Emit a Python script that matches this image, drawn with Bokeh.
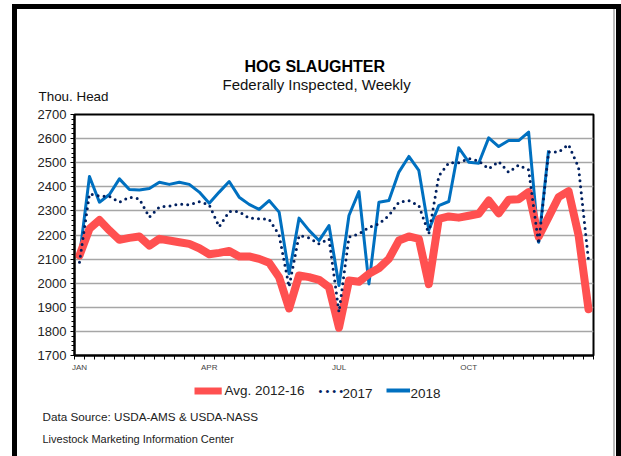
from bokeh.plotting import figure
from bokeh.models import (Range1d, FixedTicker, Title)
from bokeh.embed import file_html
from bokeh.resources import INLINE
import numpy as np

# ---------------- data ----------------
weeks = list(range(1, 53))
avg_2012_16 = [2115, 2226, 2262, 2219, 2180, 2188, 2194, 2156, 2184, 2177,
               2170, 2163, 2145, 2120, 2126, 2134, 2111, 2111, 2101, 2085,
               2025, 1895, 2032, 2025, 2014, 1983, 1815, 2011, 2006, 2039,
               2062, 2101, 2177, 2194, 2184, 1996, 2267, 2277, 2272, 2280,
               2288, 2343, 2290, 2346, 2348, 2378, 2193, 2274, 2357, 2382,
               2200, 1892]
y2017 = [2087, 2371, 2362, 2360, 2336, 2357, 2350, 2274, 2316, 2320,
         2329, 2325, 2338, 2325, 2234, 2297, 2297, 2270, 2267, 2265,
         2200, 1985, 2198, 2188, 2163, 2184, 1880, 2191, 2205, 2232,
         2246, 2281, 2336, 2343, 2322, 2205, 2445, 2500, 2500, 2517,
         2507, 2475, 2505, 2460, 2490, 2470, 2163, 2544, 2544, 2575,
         2481, 2094]
y2018 = [2110, 2443, 2336, 2368, 2433, 2389, 2387, 2393, 2419, 2410,
         2419, 2410, 2378, 2332, 2378, 2422, 2357, 2327, 2306, 2343,
         2295, 2039, 2270, 2219, 2177, 2239, 1990, 2281, 2380, 1997,
         2336, 2343, 2461, 2526, 2468, 2221, 2322, 2339, 2562, 2502,
         2498, 2603, 2567, 2592, 2592, 2627, 2170, 2551]
y2018_full = y2018 + [np.nan] * (len(weeks) - len(y2018))

series_names = ["Avg. 2012-16", "2017", "2018"]
month_weeks = [1, 14, 27, 40]
month_labels = ["JAN", "APR", "JUL", "OCT"]
y_ticks = list(range(1700, 2800, 100))

FONT = "Liberation Sans"
RED, NAVY, BLUE = "#FF5050", "#002060", "#0070C0"

# ---------------- figure ----------------
p = figure(frame_width=519, frame_height=241,
           output_backend="svg", toolbar_location=None,
           x_range=Range1d(0.5, 52.5), y_range=Range1d(1700, 2700),
           min_border_left=74, min_border_right=28,
           min_border_top=114, min_border_bottom=101)
p.background_fill_color = "white"
p.border_fill_color = None
p.outline_line_color = "black"
p.outline_line_width = 2
p.styles = {
    "background": ("linear-gradient(#000,#000) 12px 4px / 5px 452px no-repeat, "
                   "linear-gradient(#000,#000) 12px 4px / 609px 5px no-repeat, "
                   "linear-gradient(#000,#000) 616px 4px / 5px 452px no-repeat, "
                   "linear-gradient(#bbb,#bbb) 613px 9px / 2px 447px no-repeat, "
                   "#ffffff")
}

p.yaxis.ticker = FixedTicker(ticks=y_ticks,
                             minor_ticks=list(range(1700, 2701, 20)))
p.yaxis.axis_line_color = "black"
p.yaxis.axis_line_width = 2
p.yaxis.major_tick_out = 4
p.yaxis.major_tick_in = 0
p.yaxis.minor_tick_out = 3
p.yaxis.minor_tick_in = 0
p.yaxis.major_tick_line_color = "black"
p.yaxis.minor_tick_line_color = "black"
p.yaxis.major_label_text_font = FONT
p.yaxis.major_label_text_font_size = "13px"
p.yaxis.major_label_text_color = "#222222"
p.yaxis.major_label_standoff = 4

p.xaxis.ticker = FixedTicker(ticks=month_weeks,
                             minor_ticks=[w - 0.5 for w in range(1, 54)])
p.xaxis.major_label_overrides = {w: l for w, l in zip(month_weeks, month_labels)}
p.xaxis.axis_line_color = "black"
p.xaxis.axis_line_width = 2
p.xaxis.major_tick_line_color = None
p.xaxis.major_tick_out = 0
p.xaxis.major_tick_in = 0
p.xaxis.minor_tick_out = 4
p.xaxis.minor_tick_in = 0
p.xaxis.minor_tick_line_color = "black"
p.xaxis.major_label_text_font = FONT
p.xaxis.major_label_text_font_size = "8px"
p.xaxis.major_label_text_color = "#444444"
p.xaxis.major_label_standoff = 3

p.xgrid.grid_line_color = None
p.ygrid.ticker = FixedTicker(ticks=y_ticks[1:-1])
p.ygrid.grid_line_color = "#a6a6a6"
p.ygrid.grid_line_width = 1.5

p.line(weeks, y2018_full, line_color=BLUE, line_width=3, line_join="round")
p.line(weeks, avg_2012_16, line_color=RED, line_width=8,
       line_join="round", line_cap="round")
p.line(weeks, y2017, line_color=NAVY, line_width=3,
       line_dash="0 6", line_cap="round", line_join="round")

FRAME_LEFT = 74


def title(text, side, size, offset=0, standoff=0, bold=False,
          color="#111111", bg=None):
    p.add_layout(Title(text=text, align="left", offset=offset,
                       standoff=standoff, text_font=FONT,
                       text_font_size=size, text_color=color,
                       background_fill_color=bg,
                       text_font_style="bold" if bold else "normal"), side)


# above: first added is closest to the plot frame
title("Thou. Head", "above", "13.4px", -36, 21)
title("Federally Inspected, Weekly", "above", "15px", 148, -33)
title("HOG SLAUGHTER", "above", "16px", 170, 3, True, "#000000")

# below the x axis: zero-height title panels anchored at the axis bottom
ANCHOR = 371.0


def below(text, f, x_left, center, color="#222222", bg=None, swatch=False):
    h = 1.13 * f
    bottom = center + (h / 2 if swatch else 0.57 * f)
    s = int(round(2 * (ANCHOR - bottom)))
    title(text, "below", "%gpx" % f, x_left - FRAME_LEFT, s,
          color=color, bg=bg)


NB = "\u00a0"
below(NB * 14, 7, 194, 387, color=RED, bg=RED, swatch=True)
below(series_names[0], 13.5, 224, 387)
below("\u2022 \u2022 \u2022 \u2022", 11, 318, 387, color=NAVY)
below(series_names[1], 13.5, 342, 387)
below(NB * 25, 3.4, 386, 387, color=BLUE, bg=BLUE, swatch=True)
below(series_names[2], 13.5, 410, 387)
below("Data Source:  USDA-AMS & USDA-NASS", 11.7, 42, 413)
below("Livestock Marketing Information Center", 11, 42, 435)

open("out.html", "w").write(file_html(p, INLINE))
